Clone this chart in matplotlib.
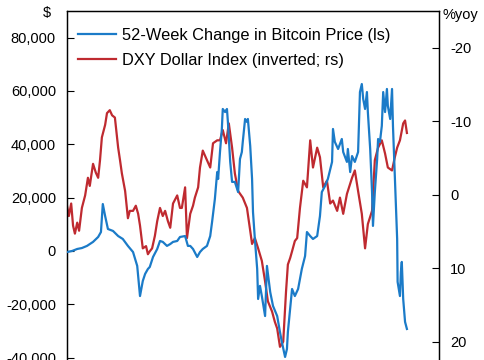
import matplotlib
matplotlib.use("Agg")
import matplotlib.pyplot as plt
from matplotlib.ticker import FuncFormatter

plt.rcParams['font.family'] = ['Liberation Sans', 'DejaVu Sans']

# 52-week change in bitcoin price, $ (left scale)
btc_t = [2015.00, 2015.11, 2015.22, 2015.32, 2015.43, 2015.56, 2015.67, 2015.73, 2015.77, 2015.82,
         2015.88, 2015.99, 2016.10, 2016.20, 2016.31, 2016.42, 2016.51, 2016.57, 2016.63, 2016.68,
         2016.74, 2016.78, 2016.85, 2016.94, 2017.00, 2017.06, 2017.15, 2017.22, 2017.28, 2017.37,
         2017.43, 2017.54, 2017.60, 2017.65, 2017.71, 2017.80, 2017.86, 2017.92, 2018.01, 2018.08,
         2018.12, 2018.18, 2018.23, 2018.25, 2018.29, 2018.33, 2018.35, 2018.40, 2018.44, 2018.46,
         2018.51, 2018.55, 2018.61, 2018.68, 2018.72, 2018.76, 2018.78, 2018.83, 2018.87, 2018.89,
         2018.94, 2018.98, 2019.00, 2019.04, 2019.09, 2019.11, 2019.15, 2019.19, 2019.26, 2019.30,
         2019.37, 2019.43, 2019.52, 2019.58, 2019.62, 2019.69, 2019.73, 2019.75, 2019.84, 2019.90,
         2019.97, 2020.05, 2020.12, 2020.16, 2020.23, 2020.29, 2020.38, 2020.44, 2020.48, 2020.55,
         2020.61, 2020.70, 2020.72, 2020.76, 2020.83, 2020.91, 2020.94, 2021.02, 2021.04, 2021.09,
         2021.13, 2021.19, 2021.26, 2021.30, 2021.34, 2021.37, 2021.41, 2021.45, 2021.47, 2021.52,
         2021.56, 2021.58, 2021.62, 2021.67, 2021.69, 2021.73, 2021.77, 2021.80, 2021.84, 2021.88,
         2021.90, 2021.95, 2021.99, 2022.01, 2022.05, 2022.10, 2022.11, 2022.16, 2022.18, 2022.20,
         2022.23, 2022.27, 2022.31]
btc_chg = [-400, 0, 750, 1100, 1900, 3400, 5250, 7100, 17600, 13100,
           8250, 7500, 5600, 4500, 1900, -400, -5600, -16900, -11250, -8600,
           -6750, -6000, -2250, 750, 3750, 3400, 1900, 2600, 3400, 3750,
           5250, 5600, 1900, 1900, 750, -2250, -400, 750, 1900, 5600,
           10900, 19500, 29600, 27000, 37100, 45750, 53250, 52100, 53250, 48400,
           33400, 25900, 25900, 22100, 34500, 37100, 40900, 49500, 48400, 49500,
           39400, 27000, 14600, 4500, -6750, -18000, -13100, -16900, -24400, -5600,
           -15400, -20600, -24400, -30400, -34100, -39750, -36750, -30400, -14250, -16900,
           -14250, -6750, -1900, 7100, 5600, 4500, 5600, 13100, 22100, 24400,
           27000, 33400, 45750, 40900, 38250, 42000, 37100, 33400, 38250, 29600,
           35600, 33400, 37100, 59600, 62600, 57000, 53250, 59600, 52100, 38250,
           22100, 9400, 22100, 34500, 42000, 40900, 46900, 59600, 52100, 60750,
           54400, 49500, 60750, 46900, 28100, 4500, -11600, -16900, -7900, -4100,
           -18000, -26600, -29250]

# DXY dollar index, % yoy (right scale, inverted)
dxy_t = [2015.00, 2015.04, 2015.09, 2015.13, 2015.17, 2015.22, 2015.26, 2015.32, 2015.39, 2015.45,
         2015.49, 2015.56, 2015.62, 2015.67, 2015.71, 2015.75, 2015.82, 2015.86, 2015.92, 2015.97,
         2016.03, 2016.10, 2016.14, 2016.18, 2016.25, 2016.31, 2016.35, 2016.42, 2016.48, 2016.53,
         2016.57, 2016.63, 2016.70, 2016.74, 2016.78, 2016.83, 2016.89, 2016.94, 2017.00, 2017.06,
         2017.11, 2017.17, 2017.22, 2017.28, 2017.37, 2017.43, 2017.47, 2017.54, 2017.58, 2017.65,
         2017.71, 2017.75, 2017.82, 2017.86, 2017.92, 2018.01, 2018.08, 2018.14, 2018.23, 2018.29,
         2018.35, 2018.42, 2018.48, 2018.55, 2018.61, 2018.68, 2018.78, 2018.87, 2018.94, 2018.98,
         2019.04, 2019.11, 2019.19, 2019.26, 2019.32, 2019.41, 2019.47, 2019.52, 2019.58, 2019.65,
         2019.71, 2019.75, 2019.80, 2019.84, 2019.90, 2019.95, 2020.01, 2020.08, 2020.16, 2020.23,
         2020.29, 2020.38, 2020.44, 2020.51, 2020.59, 2020.66, 2020.72, 2020.81, 2020.87, 2020.94,
         2021.02, 2021.13, 2021.19, 2021.26, 2021.34, 2021.41, 2021.47, 2021.56, 2021.62, 2021.69,
         2021.77, 2021.84, 2021.90, 2021.99, 2022.05, 2022.10, 2022.16, 2022.23, 2022.27, 2022.31]
dxy_yoy = [1.5, 2.9, 1.2, 4.2, 5.3, 3.8, 4.9, 1.8, 0.1, -2.3,
           -1.2, -4.2, -3.0, -2.3, -4.7, -7.8, -9.5, -11.1, -11.5, -10.8,
           -10.5, -6.4, -4.7, -2.9, -0.5, 3.2, 2.2, 2.2, 1.5, 2.6,
           4.2, 7.3, 7.0, 8.1, 7.7, 7.3, 5.6, 3.6, 1.8, 2.9,
           2.2, 3.6, 4.5, 1.2, 0.1, 1.8, 1.8, -1.0, 5.9, 2.6,
           1.5, 0.4, -1.0, -3.7, -6.0, -4.7, -3.7, -7.0, -7.4, -7.4,
           -8.8, -7.0, -9.7, -6.4, -2.9, -0.5, 0.4, 1.8, 4.9, 6.7,
           5.9, 7.3, 9.0, 11.8, 14.5, 15.9, 17.3, 18.2, 20.7, 20.0,
           13.2, 9.5, 8.6, 7.7, 6.3, 5.9, 1.8, -1.9, -1.0, -7.4,
           -3.7, -6.4, -5.1, -1.0, -1.9, 1.2, 0.8, 2.2, 0.4, 2.6,
           -0.1, -2.3, -3.3, -0.5, 2.6, 7.3, 4.0, 2.2, -4.7, -6.4,
           -7.4, -5.6, -3.7, -3.3, -5.1, -6.4, -7.4, -9.7, -10.1, -8.4]

left_ticks = [-40000, -20000, 0, 20000, 40000, 60000, 80000]
right_ticks = [-20, -10, 0, 10, 20]

fig = plt.figure(figsize=(4.85, 3.6), dpi=100)
ax = fig.add_axes([67 / 485, -0.0675, 372 / 485, 1.037])
ax2 = ax.twinx()

blue = '#1b7bc8'
red = '#bf2a30'

l1, = ax.plot(btc_t, btc_chg, color=blue, lw=1.6, zorder=3)
l2, = ax2.plot(dxy_t, dxy_yoy, color=red, lw=1.6)
ax.set_zorder(ax2.get_zorder() + 1)
ax.patch.set_visible(False)

ax.set_xlim(2015.0, 2023.0)
ax.set_ylim(-50000, 90000)
ax2.set_ylim(25.8, -25)

ax.set_yticks(left_ticks)
ax.yaxis.set_major_formatter(FuncFormatter(lambda v, p: f'{v:,.0f}'))
ax2.set_yticks(right_ticks)
ax2.yaxis.set_major_formatter(FuncFormatter(lambda v, p: f'{v:.0f}'))

for a in (ax, ax2):
    a.set_xticks([])
    a.spines['bottom'].set_visible(False)
    for s in a.spines.values():
        s.set_linewidth(0.9)
    a.tick_params(axis='y', direction='in', length=5, width=0.8, labelsize=10.5, pad=8)

fig.text(47 / 485, 1 - 13 / 360, '$', ha='center', va='center', fontsize=10.5)
fig.text(443 / 485, 1 - 15 / 360, '%yoy', ha='left', va='center', fontsize=10.5)

ax.legend([l1, l2], ['52-Week Change in Bitcoin Price (ls)', 'DXY Dollar Index (inverted; rs)'],
          loc='upper left', bbox_to_anchor=(0.0, 0.986), frameon=False, fontsize=11.8,
          handlelength=2.3, handletextpad=0.35, borderaxespad=0.3, labelspacing=0.6)

fig.savefig('out.png', dpi=100)
